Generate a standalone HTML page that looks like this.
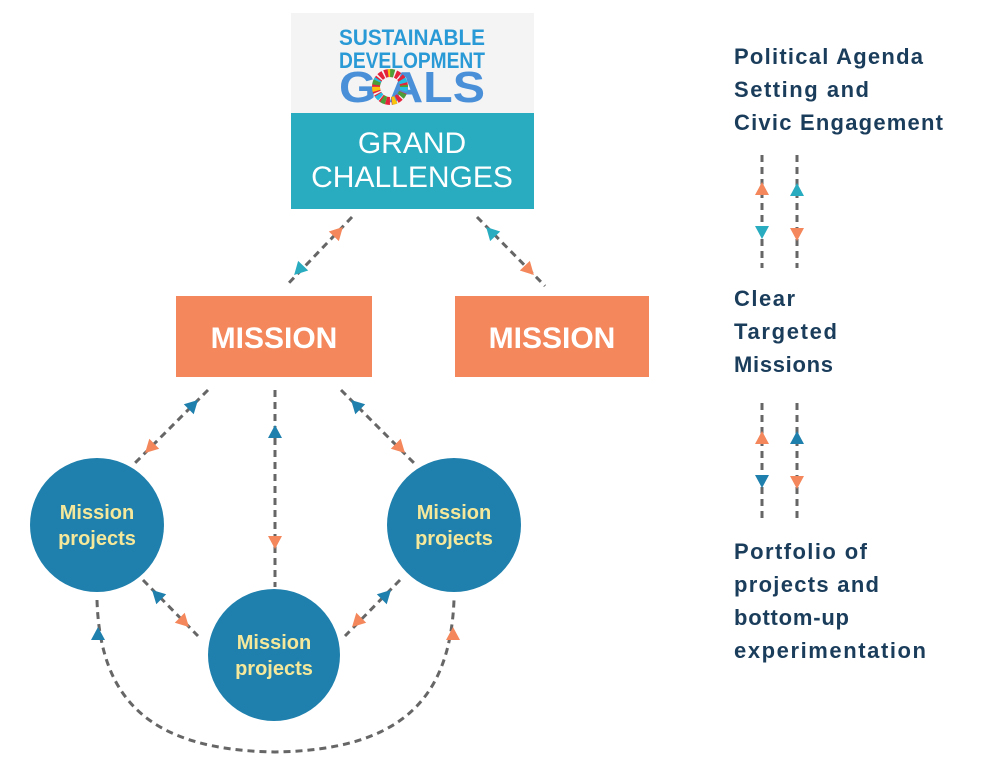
<!DOCTYPE html>
<html><head><meta charset="utf-8"><style>
body{margin:0;background:#fff;}
svg{display:block;font-family:"Liberation Sans",sans-serif;}
</style></head><body>
<svg width="986" height="771" viewBox="0 0 986 771" xmlns="http://www.w3.org/2000/svg">
<defs>
<polygon id="t" points="0,-7 7,6 -7,6"/>
</defs>
<rect x="291" y="13" width="243" height="100" fill="#f4f4f4"/>
<text x="412" y="45" text-anchor="middle" font-size="22" font-weight="bold" fill="#2a9ad6" textLength="146" lengthAdjust="spacingAndGlyphs">SUSTAINABLE</text>
<text x="412" y="68" text-anchor="middle" font-size="22" font-weight="bold" fill="#2a9ad6" textLength="146" lengthAdjust="spacingAndGlyphs">DEVELOPMENT</text>
<text x="412" y="102" text-anchor="middle" font-size="44" font-weight="bold" fill="#4a90d9" textLength="146" lengthAdjust="spacingAndGlyphs">G  ALS</text>
<g transform="translate(390,87)">
<circle r="14" fill="none" stroke="#e5243b" stroke-width="8" stroke-dasharray="4 1.5"/>
<circle r="14" fill="none" stroke="#26bde2" stroke-width="8" stroke-dasharray="4 12" />
<circle r="14" fill="none" stroke="#fcc30b" stroke-width="8" stroke-dasharray="4 20" stroke-dashoffset="8"/>
<circle r="14" fill="none" stroke="#4c9f38" stroke-width="8" stroke-dasharray="4 16" stroke-dashoffset="14"/>
</g>
<rect x="291" y="113" width="243" height="96" fill="#29acc0"/>
<text x="412" y="153" text-anchor="middle" font-size="30" fill="#fff">GRAND</text>
<text x="412" y="187" text-anchor="middle" font-size="30" fill="#fff">CHALLENGES</text>

<rect x="176" y="296" width="196" height="81" fill="#f4875b"/>
<text x="274" y="348" text-anchor="middle" font-size="30" font-weight="bold" fill="#fff">MISSION</text>
<rect x="455" y="296" width="194" height="81" fill="#f4875b"/>
<text x="552" y="348" text-anchor="middle" font-size="30" font-weight="bold" fill="#fff">MISSION</text>

<g stroke="#666" stroke-width="3" stroke-dasharray="7 5" fill="none">
<line x1="352" y1="217" x2="286" y2="286"/>
<line x1="477" y1="217" x2="545" y2="286"/>
<line x1="208" y1="390" x2="135" y2="463"/>
<line x1="275" y1="390" x2="275" y2="587"/>
<line x1="341" y1="390" x2="414" y2="463"/>
<line x1="143" y1="580" x2="198" y2="636"/>
<line x1="400" y1="580" x2="345" y2="636"/>
<path d="M97,600 C100,700 150,750 275,752 C400,750 450,700 454,600"/>
<line x1="762" y1="155" x2="762" y2="268"/>
<line x1="797" y1="155" x2="797" y2="268"/>
<line x1="762" y1="403" x2="762" y2="518"/>
<line x1="797" y1="403" x2="797" y2="518"/>
</g>

<circle cx="97" cy="525" r="67" fill="#1f80ad"/>
<circle cx="454" cy="525" r="67" fill="#1f80ad"/>
<circle cx="274" cy="655" r="66" fill="#1f80ad"/>
<g font-size="20" font-weight="bold" fill="#f6e89a" text-anchor="middle">
<text x="97" y="519">Mission</text><text x="97" y="545">projects</text>
<text x="454" y="519">Mission</text><text x="454" y="545">projects</text>
<text x="274" y="649">Mission</text><text x="274" y="675">projects</text>
</g>

<g>
<use href="#t" fill="#f4875b" transform="translate(338,232) rotate(44)"/>
<use href="#t" fill="#29acc0" transform="translate(299,270) rotate(224)"/>
<use href="#t" fill="#29acc0" transform="translate(491,232) rotate(-44)"/>
<use href="#t" fill="#f4875b" transform="translate(529,270) rotate(136)"/>
<use href="#t" fill="#1f80ad" transform="translate(193,405) rotate(45)"/>
<use href="#t" fill="#f4875b" transform="translate(150,448) rotate(225)"/>
<use href="#t" fill="#1f80ad" transform="translate(275,432)"/>
<use href="#t" fill="#f4875b" transform="translate(275,542) rotate(180)"/>
<use href="#t" fill="#1f80ad" transform="translate(356,405) rotate(-45)"/>
<use href="#t" fill="#f4875b" transform="translate(400,448) rotate(135)"/>
<use href="#t" fill="#1f80ad" transform="translate(157,595) rotate(-45)"/>
<use href="#t" fill="#f4875b" transform="translate(184,622) rotate(135)"/>
<use href="#t" fill="#1f80ad" transform="translate(386,595) rotate(45)"/>
<use href="#t" fill="#f4875b" transform="translate(357,622) rotate(225)"/>
<use href="#t" fill="#1f80ad" transform="translate(98,634)"/>
<use href="#t" fill="#f4875b" transform="translate(453,634)"/>
<use href="#t" fill="#f4875b" transform="translate(762,189)"/>
<use href="#t" fill="#29acc0" transform="translate(762,232) rotate(180)"/>
<use href="#t" fill="#29acc0" transform="translate(797,190)"/>
<use href="#t" fill="#f4875b" transform="translate(797,234) rotate(180)"/>
<use href="#t" fill="#f4875b" transform="translate(762,438)"/>
<use href="#t" fill="#1f80ad" transform="translate(762,481) rotate(180)"/>
<use href="#t" fill="#1f80ad" transform="translate(797,438)"/>
<use href="#t" fill="#f4875b" transform="translate(797,482) rotate(180)"/>
</g>

<g font-size="22" font-weight="bold" fill="#1b3d5c" lengthAdjust="spacingAndGlyphs">
<text x="734" y="64" textLength="189">Political Agenda</text>
<text x="734" y="97" textLength="135">Setting and</text>
<text x="734" y="130" textLength="209">Civic Engagement</text>
<text x="734" y="306" textLength="61">Clear</text>
<text x="734" y="339" textLength="103">Targeted</text>
<text x="734" y="372" textLength="99">Missions</text>
<text x="734" y="559" textLength="133">Portfolio of</text>
<text x="734" y="592" textLength="145">projects and</text>
<text x="734" y="625" textLength="115">bottom-up</text>
<text x="734" y="658" textLength="192">experimentation</text>
</g>
</svg>
</body></html>
